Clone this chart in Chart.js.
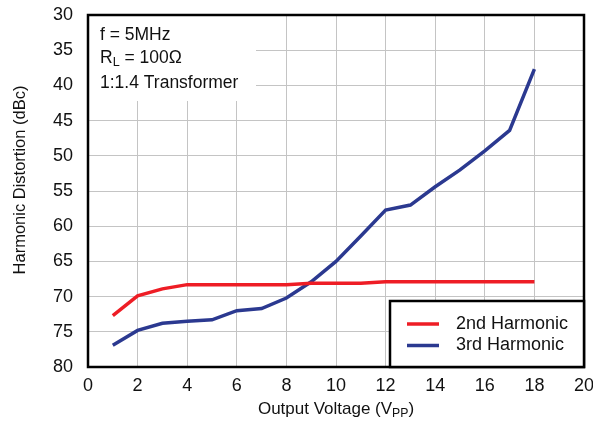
<!DOCTYPE html>
<html>
<head>
<meta charset="utf-8">
<script src="https://cdn.jsdelivr.net/npm/chart.js@4"></script>
<style>
  html, body { margin: 0; padding: 0; background: #fff; }
  #chart { display: block; }
</style>
</head>
<body>
<canvas id="chart" width="593" height="424"></canvas>
<script>
// output voltage (Vpp)
const voltages = [1, 2, 3, 4, 5, 6, 7, 8, 9, 10, 11, 12, 13, 14, 15, 16, 17, 18];
const secondHarmonic = [72.7, 69.9, 68.9, 68.3, 68.3, 68.3, 68.3, 68.3, 68.1, 68.1, 68.1, 67.9, 67.9, 67.9, 67.9, 67.9, 67.9, 67.9];
const thirdHarmonic = [76.9, 74.8, 73.8, 73.5, 73.3, 72.0, 71.7, 70.2, 67.9, 65.0, 61.4, 57.7, 57.0, 54.4, 52.0, 49.3, 46.4, 37.7];
const seriesNames = ['2nd Harmonic', '3rd Harmonic'];
const seriesColors = ['#ee1d25', '#2b3990'];
const xTicks = [0, 2, 4, 6, 8, 10, 12, 14, 16, 18, 20];
const yTicks = [30, 35, 40, 45, 50, 55, 60, 65, 70, 75, 80];

const FONT = '"Liberation Sans", Arial, Helvetica, sans-serif';

function toPoints(ys) {
    return voltages.map((v, i) => ({ x: v, y: ys[i] }));
}

// draw text with optional subscript pieces, returns total width
function textWithSub(ctx, parts, x, y, size) {
    let cx = x;
    parts.forEach(p => {
        ctx.font = (p.sub ? size * 0.72 : size) + 'px ' + FONT;
        ctx.fillText(p.t, cx, y + (p.sub ? size * 0.28 : 0));
        cx += ctx.measureText(p.t).width;
    });
    return cx - x;
}
function measureWithSub(ctx, parts, size) {
    let w = 0;
    parts.forEach(p => {
        ctx.font = (p.sub ? size * 0.72 : size) + 'px ' + FONT;
        w += ctx.measureText(p.t).width;
    });
    return w;
}

const decorPlugin = {
    id: 'decor',
    beforeDatasetsDraw(chart) {
        const ctx = chart.ctx;
        const a = chart.chartArea;
        ctx.save();
        // white box behind the test conditions
        ctx.fillStyle = '#fff';
        ctx.fillRect(a.left, a.top, 168, 86);
        ctx.fillStyle = '#111';
        ctx.textBaseline = 'middle';
        ctx.textAlign = 'left';
        textWithSub(ctx, [{ t: 'f = 5MHz' }], a.left + 12, a.top + 20, 17.5);
        textWithSub(ctx, [{ t: 'R' }, { t: 'L', sub: true }, { t: ' = 100Ω' }], a.left + 12, a.top + 43, 17.5);
        textWithSub(ctx, [{ t: '1:1.4 Transformer' }], a.left + 12, a.top + 68, 17.5);
        ctx.restore();
    },
    afterDatasetsDraw(chart) {
        const ctx = chart.ctx;
        const a = chart.chartArea;
        ctx.save();
        // plot frame
        ctx.strokeStyle = '#000';
        ctx.lineWidth = 2.5;
        ctx.strokeRect(a.left, a.top, a.right - a.left, a.bottom - a.top);

        // legend box
        const lx = a.right - 194, ly = a.bottom - 66;
        ctx.fillStyle = '#fff';
        ctx.fillRect(lx, ly, a.right - lx, a.bottom - ly);
        ctx.strokeRect(lx, ly, a.right - lx, a.bottom - ly);
        ctx.textBaseline = 'middle';
        ctx.textAlign = 'left';
        ctx.font = '18px ' + FONT;
        chart.data.datasets.forEach((ds, i) => {
            const y = ly + 23 + i * 21.5;
            ctx.strokeStyle = ds.borderColor;
            ctx.lineWidth = 3.5;
            ctx.beginPath();
            ctx.moveTo(lx + 17, y);
            ctx.lineTo(lx + 49, y);
            ctx.stroke();
            ctx.fillStyle = '#111';
            ctx.fillText(ds.label, lx + 66, y);
        });

        // axis titles
        ctx.fillStyle = '#111';
        const xParts = [{ t: 'Output Voltage (V' }, { t: 'PP', sub: true }, { t: ')' }];
        const w = measureWithSub(ctx, xParts, 17);
        textWithSub(ctx, xParts, (a.left + a.right) / 2 - w / 2, 409, 17);

        ctx.translate(20, 180);
        ctx.rotate(-Math.PI / 2);
        ctx.textAlign = 'center';
        ctx.font = '16.5px ' + FONT;
        ctx.fillText('Harmonic Distortion (dBc)', 0, 0);
        ctx.restore();
    }
};

new Chart(document.getElementById('chart'), {
    type: 'line',
    data: {
        datasets: [
            {
                label: seriesNames[0],
                data: toPoints(secondHarmonic),
                borderColor: seriesColors[0],
                borderWidth: 3.5,
                pointRadius: 0,
                tension: 0,
                fill: false
            },
            {
                label: seriesNames[1],
                data: toPoints(thirdHarmonic),
                borderColor: seriesColors[1],
                borderWidth: 3.5,
                pointRadius: 0,
                tension: 0,
                fill: false
            }
        ]
    },
    options: {
        responsive: false,
        animation: false,
        layout: { padding: { left: 0, top: 15, right: 9, bottom: 0 } },
        plugins: {
            legend: { display: false },
            tooltip: { enabled: false }
        },
        scales: {
            x: {
                type: 'linear',
                min: 0,
                max: 20,
                afterBuildTicks: s => { s.ticks = xTicks.map(v => ({ value: v })); },
                afterFit: s => { s.height = 57; s.paddingLeft = 0; s.paddingRight = 0; },
                grid: { color: '#c4c4c4', lineWidth: 1, drawTicks: false },
                border: { display: false },
                ticks: { color: '#111', font: { family: FONT, size: 18 }, padding: 8, maxRotation: 0 }
            },
            y: {
                reverse: true,
                min: 30,
                max: 80,
                afterBuildTicks: s => { s.ticks = yTicks.map(v => ({ value: v })); },
                afterFit: s => { s.width = 88; s.paddingTop = 0; s.paddingBottom = 0; },
                grid: { color: '#c4c4c4', lineWidth: 1, drawTicks: false },
                border: { display: false },
                ticks: { color: '#111', font: { family: FONT, size: 18 }, padding: 15 }
            }
        }
    },
    plugins: [decorPlugin]
});
</script>
</body>
</html>
